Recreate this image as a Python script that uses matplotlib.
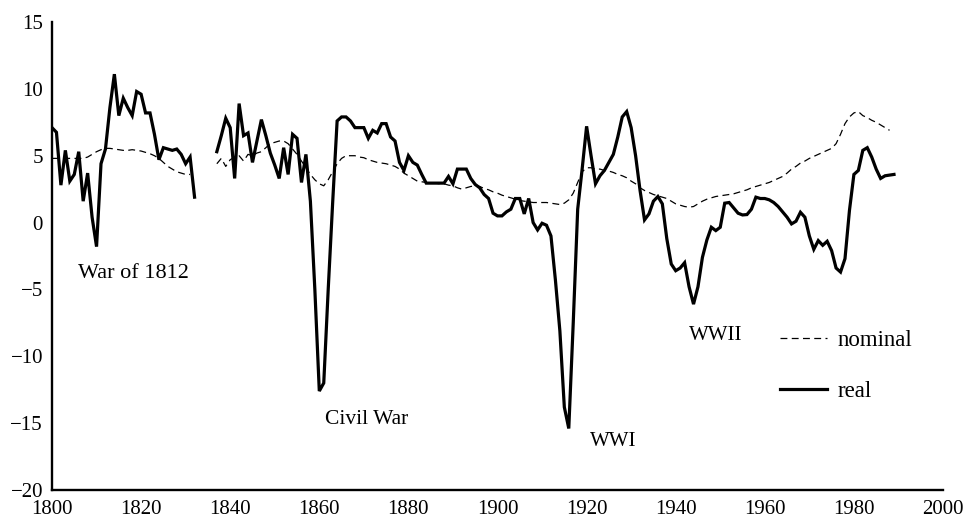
import matplotlib
matplotlib.use("Agg")
import matplotlib.pyplot as plt

# ---- data -------------------------------------------------------------
years_a = list(range(1800, 1833))          # first segment (real)
real_a = [7.1, 6.75, 2.8, 5.4, 3.1, 3.6, 5.3, 1.6, 3.7, 0.4,
          -1.8, 4.4, 5.5, 8.6, 11.1, 8.0, 9.3, 8.6, 8.0, 9.8,
          9.6, 8.2, 8.2, 6.6, 4.7, 5.6, 5.5, 5.4, 5.5, 5.1,
          4.4, 4.9, 1.9]

years_nom_a = list(range(1800, 1832))
nominal_a = [4.8, 4.8, 4.8, 4.8, 4.8, 4.8, 4.8, 4.8, 4.9, 5.1,
             5.3, 5.45, 5.55, 5.55, 5.5, 5.45, 5.4, 5.4, 5.45, 5.4,
             5.35, 5.25, 5.15, 5.0, 4.8, 4.5, 4.2, 4.0, 3.8, 3.7,
             3.6, 3.6]

years_b = list(range(1837, 1990))           # second segment (real)
real_b = [5.3, 6.5, 7.8,
          7.1, 3.3, 8.9, 6.5, 6.7, 4.5, 6.1, 7.7, 6.5, 5.2,
          4.3, 3.3, 5.6, 3.6, 6.6, 6.3, 3.0, 5.1, 1.6, -5.0,
          -12.6, -12.0, -5.0, 1.5, 7.6, 7.9, 7.9, 7.6, 7.1, 7.1,
          7.1, 6.3, 6.9, 6.7, 7.4, 7.4, 6.4, 6.1, 4.5, 3.9,
          5.0, 4.5, 4.3, 3.6, 2.95, 2.95, 2.95, 2.95, 2.95, 3.45,
          2.9, 4.0, 4.0, 4.0, 3.3, 2.85, 2.6, 2.1, 1.8, 0.7,
          0.5, 0.5, 0.8, 1.0, 1.8, 1.8, 0.65, 1.8, 0.0, -0.55,
          -0.05, -0.2, -1.0, -4.3, -8.1, -13.8, -15.4, -7.5, 1.0, 4.0,
          7.2, 5.0, 2.9, 3.5, 3.9, 4.5, 5.1, 6.4, 7.9, 8.3,
          7.1, 5.0, 2.4, 0.2, 0.65, 1.6, 1.95, 1.4, -1.2, -3.1,
          -3.6, -3.4, -3.0, -4.8, -6.1, -4.8, -2.6, -1.3, -0.35, -0.6,
          -0.35, 1.45, 1.5, 1.1, 0.7, 0.57, 0.6, 1.0, 1.9, 1.8,
          1.8, 1.7, 1.5, 1.2, 0.8, 0.4, -0.1, 0.1, 0.77, 0.4,
          -1.0, -2.0, -1.35, -1.7, -1.4, -2.1, -3.4, -3.7, -2.7, 0.9,
          3.6, 3.9, 5.4, 5.6, 4.9, 4.0, 3.3, 3.5, 3.55, 3.6]

years_nom_b = list(range(1837, 1989))
nominal_b = [4.4, 4.8, 4.2,
             4.7, 4.9, 5.0, 4.6, 5.1, 5.0, 5.2, 5.3, 5.6, 5.9,
             6.0, 6.1, 6.1, 5.9, 5.5, 5.1, 4.6, 4.1, 3.6, 3.2,
             2.9, 2.75, 3.2, 3.8, 4.4, 4.8, 5.0, 5.0, 5.0, 4.9,
             4.85, 4.7, 4.6, 4.5, 4.45, 4.4, 4.3, 4.2, 4.0, 3.7,
             3.5, 3.3, 3.1, 3.05, 3.0, 2.95, 2.95, 2.9, 2.9, 2.8,
             2.75, 2.6, 2.5, 2.6, 2.7, 2.75, 2.7, 2.55, 2.45, 2.3,
             2.2, 2.05, 1.95, 1.85, 1.75, 1.65, 1.6, 1.55, 1.5, 1.5,
             1.5, 1.5, 1.45, 1.4, 1.35, 1.45, 1.7, 2.2, 3.0, 3.8,
             4.1, 4.1, 4.0, 4.0, 3.9, 3.85, 3.75, 3.6, 3.5, 3.35,
             3.1, 2.9, 2.6, 2.4, 2.25, 2.1, 2.0, 1.9, 1.8, 1.6,
             1.4, 1.3, 1.2, 1.15, 1.2, 1.4, 1.6, 1.75, 1.85, 1.95,
             2.0, 2.05, 2.1, 2.15, 2.25, 2.35, 2.45, 2.6, 2.7, 2.8,
             2.9, 3.0, 3.15, 3.3, 3.45, 3.7, 4.0, 4.2, 4.45, 4.6,
             4.8, 4.95, 5.1, 5.25, 5.4, 5.55, 5.9, 6.6, 7.4, 7.9,
             8.2, 8.3, 8.0, 7.85, 7.65, 7.5, 7.3, 7.1, 6.9]

x_ticks = [1800, 1820, 1840, 1860, 1880, 1900, 1920, 1940, 1960, 1980, 2000]
y_ticks = [-20, -15, -10, -5, 0, 5, 10, 15]

annotations = ["War of 1812", "Civil War", "WWI", "WWII"]
annot_pos = [(1805.8, -4.15), (1861.2, -15.05), (1920.8, -16.7), (1942.9, -8.75)]
annot_size = [16, 15.5, 15, 15]

# ---- figure -----------------------------------------------------------
plt.rcParams["font.family"] = ["Liberation Serif", "DejaVu Serif"]
plt.rcParams["font.size"] = 15

W, H = 967, 522
fig = plt.figure(figsize=(W / 100, H / 100), dpi=100)
ax = fig.add_axes([52 / W, 1 - 490 / H, (943 - 52) / W, (490 - 22) / H])

dash = (5.5, 3.5)
h_nom, = ax.plot(years_nom_a, nominal_a, color="black", lw=0.9,
                 dashes=dash, label="nominal")
ax.plot(years_nom_b, nominal_b, color="black", lw=0.9, dashes=dash)
h_real, = ax.plot(years_a, real_a, color="black", lw=2.3,
                  solid_joinstyle="miter", label="real")
ax.plot(years_b, real_b, color="black", lw=2.3, solid_joinstyle="miter")

for txt, (xx, yy), fs in zip(annotations, annot_pos, annot_size):
    ax.text(xx, yy, txt, ha="left", va="baseline", fontsize=fs)

ax.set_xlim(1800, 2000)
ax.set_ylim(-20, 15)
ax.set_xticks(x_ticks)
ax.set_yticks(y_ticks)
ax.tick_params(axis="both", length=0, labelsize=15)
ax.tick_params(axis="y", pad=6.5)
ax.tick_params(axis="x", pad=7)

for s in ["top", "right"]:
    ax.spines[s].set_visible(False)
for s in ["left", "bottom"]:
    ax.spines[s].set_linewidth(1.7)

leg = ax.legend(handles=[h_nom, h_real], loc="upper left",
                bbox_to_anchor=(780 / W, 1 - 330 / H),
                bbox_transform=fig.transFigure,
                frameon=False, borderpad=0, borderaxespad=0,
                handlelength=2.05, handletextpad=0.45,
                labelspacing=1.3, fontsize=16.5)

fig.savefig("out.png", dpi=100)
